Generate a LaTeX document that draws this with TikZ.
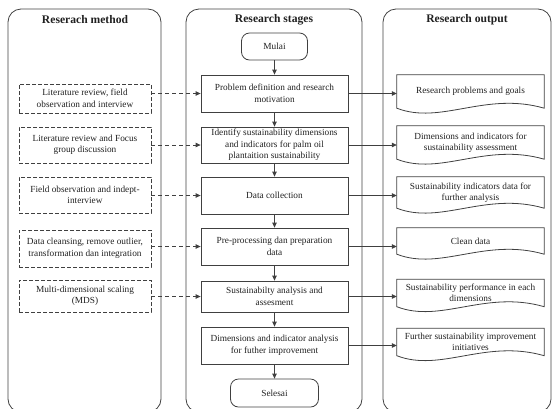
\documentclass[tikz,border=0pt]{standalone}
\usepackage{fontspec}
\setmainfont{Liberation Serif}
\usetikzlibrary{arrows.meta,calc}
\definecolor{ln}{HTML}{404040}
\definecolor{tx}{HTML}{202020}
\newcommand\docshape[1]{%
  \draw[ln,line width=0.8pt] (#1.north west) -- (#1.north east) -- (#1.south east)
    .. controls ([shift={(-59,-17)}]#1.south east) and ([shift={(44,17)}]#1.south west) .. (#1.south west) -- cycle;}
\begin{document}
\begin{tikzpicture}[x=1pt,y=-1pt,
  every node/.style={text=tx,font=\rmfamily\fontsize{9.3}{11.5}\selectfont,align=center,inner sep=0pt},
  panel/.style={draw=ln,line width=0.8pt,rounded corners=13pt},
  ttl/.style={font=\rmfamily\fontsize{11.6}{13}\selectfont\bfseries},
  mbox/.style={draw=ln,line width=0.8pt,minimum width=147pt},
  lbox/.style={draw=ln,line width=0.8pt,dash pattern=on 4pt off 2pt,minimum width=132pt},
  term/.style={draw=ln,line width=0.8pt,rounded corners=8pt},
  obox/.style={minimum width=147pt},
  arr/.style={draw=ln,line width=0.8pt,-{Triangle[length=5pt,width=4.5pt]}},
  darr/.style={arr,dash pattern=on 4pt off 3pt}]
\useasboundingbox (0,0) rectangle (553,408);
\begin{scope}
\clip (0,0) rectangle (553,408);
\draw[panel] (8,9) rectangle (161,412);
\draw[panel] (186,9) rectangle (362,412);
\draw[panel] (383,9) rectangle (551,412);
\end{scope}
\node[ttl] (t1) at (85,20) {Reserach method};
\node[ttl] (t2) at (274,20) {Research stages};
\node[ttl] (t3) at (467,20) {Research output};
% left
\node[lbox,minimum height=29pt] (l1) at (85,98.5) {Literature review, field\\observation and interview};
\node[lbox,minimum height=36pt] (l2) at (85,145) {Literature review and Focus\\group discussion};
\node[lbox,minimum height=36pt] (l3) at (85,195) {Field observation and indept-\\interview};
\node[lbox,minimum height=37pt] (l4) at (85,248.5) {Data cleansing, remove outlier,\\transformation dan integration};
\node[lbox,minimum height=32pt] (l5) at (85,296) {Multi-dimensional scaling\\(MDS)};
% middle
\node[term,minimum width=66pt,minimum height=27pt] (m0) at (274.5,46.5) {Mulai};
\node[mbox,minimum height=37pt] (m1) at (274.5,93.5) {Problem definition and research\\motivation};
\node[mbox,minimum height=36pt] (m2) at (274.5,145) {Identify sustainability dimensions\\and indicators for palm oil\\plantaition sustainability};
\node[mbox,minimum height=37pt] (m3) at (274.5,195.5) {Data collection};
\node[mbox,minimum height=37pt] (m4) at (274.5,246.5) {Pre-processing dan preparation\\data};
\node[mbox,minimum height=31pt] (m5) at (274.5,296.5) {Sustainabilty analysis and\\assesment};
\node[mbox,minimum height=37pt] (m6) at (274.5,345.5) {Dimensions and indicator analysis\\for futher improvement};
\node[term,minimum width=88pt,minimum height=28pt] (m7) at (274.5,393) {Selesai};
% right
\node[obox,minimum height=33pt] (o1) at (470.5,91.5) {Research problems and goals};
\node[obox,minimum height=33pt] (o2) at (470.5,142.5) {Dimensions and indicators for\\sustainability assessment};
\node[obox,minimum height=31pt] (o3) at (470.5,192.5) {Sustainability indicators data for\\further analysis};
\node[obox,minimum height=26pt] (o4) at (470.5,241) {Clean data};
\node[obox,minimum height=27pt] (o5) at (470.5,293) {Sustainability performance in each\\dimensions};
\node[obox,minimum height=27pt] (o6) at (470.5,342) {Further sustainability improvement\\initiatives};
\docshape{o1}\docshape{o2}\docshape{o3}\docshape{o4}\docshape{o5}\docshape{o6}
% vertical arrows
\draw[arr] (m0) -- (m1);
\draw[arr] (m1) -- (m2);
\draw[arr] (m2) -- (m3);
\draw[arr] (m3) -- (m4);
\draw[arr] (m4) -- (m5);
\draw[arr] (m5) -- (m6);
\draw[arr] (m6) -- (m7);
% dashed arrows
\draw[darr] (l1.east |- m1.west) -- (m1.west);
\draw[darr] (l2.east |- m2.west) -- (m2.west);
\draw[darr] (l3.east |- m3.west) -- (m3.west);
\draw[darr] (l4.east |- m4.west) -- (m4.west);
\draw[darr] (l5.east |- m5.west) -- (m5.west);
% output arrows
\draw[arr] (m1.east) -- (m1.east -| o1.west);
\draw[arr] (m2.east) -- (m2.east -| o2.west);
\draw[arr] (m3.east) -- (m3.east -| o3.west);
\draw[arr] (m4.east) -- (m4.east -| o4.west);
\draw[arr] (m5.east) -- (m5.east -| o5.west);
\draw[arr] (m6.east) -- (m6.east -| o6.west);
\end{tikzpicture}
\end{document}
